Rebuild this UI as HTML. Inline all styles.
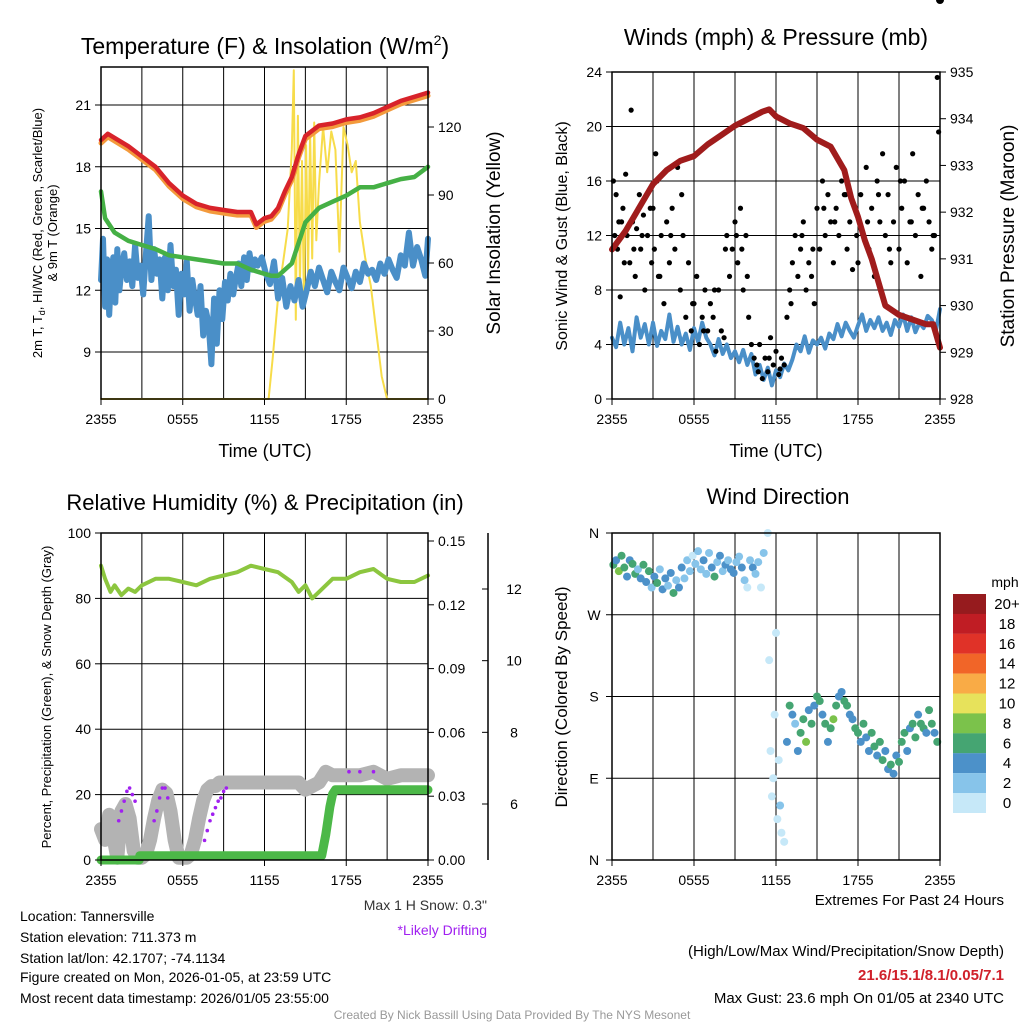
<!DOCTYPE html>
<html><head><meta charset="utf-8"><style>
body{margin:0;background:#fff;overflow:hidden;}
svg{display:block;font-family:"Liberation Sans",Arial,sans-serif;}
</style></head><body>
<svg id="chart" width="1024" height="1024" viewBox="0 0 1024 1024" xmlns="http://www.w3.org/2000/svg">
<defs><clipPath id="clip2"><rect x="606" y="66" width="340" height="339"/></clipPath></defs>
<rect width="1024" height="1024" fill="#fff"/>
<g id="g1"></g>
<g id="g2"></g>
<g id="g3"></g>
<g id="g4"></g>
<g id="txt">
<text x="20" y="921" font-size="14">Location: Tannersville</text>
<text x="20" y="942" font-size="14">Station elevation: 711.373 m</text>
<text x="20" y="963" font-size="14">Station lat/lon: 42.1707; -74.1134</text>
<text x="20" y="982" font-size="14">Figure created on Mon, 2026-01-05, at 23:59 UTC</text>
<text x="20" y="1003" font-size="14">Most recent data timestamp: 2026/01/05 23:55:00</text>
<text x="487" y="910" font-size="14" text-anchor="end" fill="#333">Max 1 H Snow: 0.3"</text>
<text x="487" y="935" font-size="14" text-anchor="end" fill="#a020f0">*Likely Drifting</text>
<text x="1004" y="905" font-size="15" text-anchor="end">Extremes For Past 24 Hours</text>
<text x="1004" y="956" font-size="15" text-anchor="end">(High/Low/Max Wind/Precipitation/Snow Depth)</text>
<text x="1004" y="980" font-size="15" font-weight="bold" text-anchor="end" fill="#d0202a">21.6/15.1/8.1/0.05/7.1</text>
<text x="1004" y="1003" font-size="15" text-anchor="end">Max Gust: 23.6 mph On 01/05 at 2340 UTC</text>
<text x="512" y="1019" font-size="12" text-anchor="middle" fill="#999">Created By Nick Bassill Using Data Provided By The NYS Mesonet</text>
</g>
</svg>
<script>
// ---------- data ----------
const timeLabels=["2355","0555","1155","1755","2355"];
const tempT=[0,0.5,1,2,3,4,5,6,7,8,9,10,11,11.4,12,12.5,13,13.5,14,14.5,15,16,17,18,19,20,21,22,23,24];
const temp2m=[19.3,19.6,19.4,19.0,18.5,18.0,17.2,16.6,16.2,16.0,15.9,15.8,15.8,15.2,15.5,15.6,16.0,16.8,17.5,18.6,19.5,20.0,20.1,20.3,20.4,20.6,20.9,21.2,21.4,21.6];
const dewT=[0,0.3,1,2,3,4,5,6,7,8,9,10,11,12,12.5,13,14,15,16,17,18,19,20,21,22,23,24];
const dewpoint=[16.8,15.5,14.8,14.4,14.2,14.0,13.7,13.6,13.5,13.4,13.3,13.3,13.0,12.8,12.7,12.7,13.3,15.3,16.0,16.3,16.6,17.0,17.0,17.2,17.4,17.5,18.0];
const wcT=[0,0.15,0.3,0.45,0.6,0.75,0.9,1.05,1.2,1.35,1.5,1.7,1.9,2.1,2.3,2.5,2.7,2.9,3.1,3.3,3.5,3.7,3.9,4.1,4.3,4.5,4.7,4.9,5.1,5.3,5.5,5.7,5.9,6.1,6.3,6.5,6.7,6.9,7.1,7.3,7.5,7.7,7.9,8.1,8.3,8.5,8.7,8.9,9.1,9.3,9.5,9.7,9.9,10.1,10.3,10.5,10.7,10.9,11.1,11.3,11.5,11.8,12.1,12.4,12.7,13.0,13.3,13.6,13.9,14.2,14.5,14.8,15.1,15.4,15.7,16.0,16.3,16.6,16.9,17.2,17.5,17.8,18.1,18.4,18.7,19.0,19.3,19.6,19.9,20.2,20.5,20.8,21.1,21.4,21.7,22.0,22.3,22.6,22.9,23.2,23.5,23.8,24];
const windChill=[12.5,14.5,11.2,13.5,10.8,12.8,13.6,11.4,14.0,12.0,13.0,13.8,12.5,13.4,12.2,14.2,12.6,13.2,11.8,13.8,15.6,12.5,14.0,12.8,13.5,11.6,13.6,12.0,14.2,12.2,13.0,10.8,12.8,11.8,13.4,11.0,12.5,11.6,10.8,12.2,9.8,11.0,10.4,8.4,11.6,9.4,12.0,10.6,12.4,11.5,12.8,11.8,12.6,13.3,12.2,13.6,12.5,13.8,13.0,13.5,13.2,13.6,12.8,12.3,13.4,11.6,12.6,11.2,12.2,11.5,12.5,11.2,12.0,12.9,12.2,13.1,12.5,11.9,12.9,12.4,12.0,13.1,12.6,12.1,12.9,12.4,13.3,12.8,13.0,12.5,13.3,12.8,13.5,13.0,12.6,13.7,13.2,14.8,13.2,14.1,13.5,12.7,14.5];
const solarT=[0,12.3,12.6,13.0,13.4,13.7,14.0,14.15,14.3,14.45,14.6,14.75,14.9,15.05,15.2,15.35,15.5,15.65,15.8,16.0,16.3,16.6,16.9,17.2,17.5,17.8,18.1,18.4,18.7,19.0,19.4,19.8,20.2,20.6,21.0,24];
const solar=[0,0,18,45,62,75,110,145,35,125,50,105,40,112,55,118,62,122,70,95,120,100,118,110,65,120,112,100,105,78,62,50,30,10,0,0];
const pressT=[0,0.5,1,2,3,4,5,6,7,8,9,10,11,11.5,12,13,14,15,16,17,17.5,18,18.5,19,19.5,20,21,22,23,23.5,24];
const pressure=[931.2,931.4,931.6,932.1,932.6,932.9,933.1,933.2,933.45,933.65,933.85,934.0,934.15,934.2,934.05,933.9,933.8,933.55,933.4,932.9,932.3,931.9,931.4,931.0,930.5,930.0,929.8,929.7,929.6,929.6,929.1];
const sonicT=[0,0.3,0.6,0.9,1.2,1.5,1.8,2.1,2.4,2.7,3.0,3.3,3.6,3.9,4.2,4.5,4.8,5.1,5.4,5.7,6.0,6.3,6.6,6.9,7.2,7.5,7.8,8.1,8.4,8.7,9.0,9.3,9.6,9.9,10.2,10.5,10.8,11.1,11.4,11.7,12.0,12.3,12.6,12.9,13.2,13.5,13.8,14.1,14.4,14.7,15.0,15.3,15.6,15.9,16.2,16.5,16.8,17.1,17.4,17.7,18.0,18.3,18.6,18.9,19.2,19.5,19.8,20.1,20.4,20.7,21.0,21.3,21.6,21.9,22.2,22.5,22.8,23.1,23.4,23.7,24];
const sonic=[4.5,3.8,5.6,4.0,5.2,3.5,6.0,4.5,5.5,4.0,5.6,3.9,5.0,4.4,6.2,4.2,5.3,4.0,4.8,3.6,5.2,4.2,5.6,4.5,4.0,3.2,4.4,3.3,4.0,3.0,3.5,2.7,3.6,2.5,3.3,1.8,2.5,1.4,2.3,1.0,2.1,1.6,2.6,2.1,2.9,4.0,3.5,4.6,3.4,4.3,4.0,4.5,3.7,4.8,4.4,5.5,4.6,5.6,5.0,4.5,5.4,6.2,5.0,5.8,5.2,6.0,5.0,5.6,4.7,5.8,5.3,6.2,5.0,6.0,4.9,5.6,5.2,6.1,5.8,5.0,6.6];
const gustT=[
0.1,0.2,0.3,0.4,0.5,0.6,0.8,0.9,1.0,1.1,
1.3,1.4,1.5,1.7,1.8,2.0,2.1,2.3,2.4,2.6,
2.8,2.9,3.1,3.2,3.4,3.6,3.8,4.0,4.2,4.4,
4.6,4.8,5.0,5.2,5.4,5.6,5.8,6.0,6.2,6.4,
6.6,6.8,7.0,7.2,7.4,7.6,7.8,8.0,8.2,8.4,
8.6,8.8,9.0,9.2,9.4,9.6,9.8,10.0,10.2,10.4,
10.6,10.8,11.0,11.2,11.4,11.6,11.8,12.0,12.2,12.4,
12.6,12.8,13.0,13.2,13.4,13.6,13.8,14.0,14.2,14.4,
14.6,14.8,15.0,15.2,15.4,15.6,15.8,16.0,16.2,16.4,
16.6,16.8,17.0,17.2,17.4,17.6,17.8,18.0,18.2,18.4,
18.6,18.8,19.0,19.2,19.4,19.6,19.8,20.0,20.2,20.4,
20.6,20.8,21.0,21.2,21.4,21.6,21.8,22.0,22.2,22.4,
22.6,22.8,23.0,23.2,23.4,23.6,23.8,23.9,0.7,1.6,
2.2,3.0,3.5,4.3,5.1,5.9,6.7,7.5,8.3,9.1,
9.9,10.7,11.5,12.3,13.1,13.9,14.7,15.5,16.3,17.1,
17.9,18.7,19.5,20.3,21.1,21.9,22.7,23.5,3.3,9.5];
const gust=[
16,12,15,11,13,7.5,14,10,16.5,12,
10,21.2,13,9,12.5,15,11,13.5,8,12,
14,10,11,18,9,12,7,13,10,14,
11,17,8,12,6,10,5,7,9,4,
6,8,5,7,6,3.5,8,5,4.5,12,
9,11,13,10,14,8,12,6,4,3,
2.5,4,1.5,3,2,4.5,2.5,3.5,1.8,3,
2.5,6,8,10,12,9,11,13,8,10,
9,7,14,11,16,12,15,13,10,14,
12,16,15,11,13,9.5,14,10,15,12,
17,11,14,9,16,13,18,12,15,10,
13,17,11,14,16,10,13,18,12,15,
9,14,16,13,11,12,23.6,19.6,13,11,
12,14,9,12,15,7,5,8,11,12,
9,2,3,2.2,7,12,11,14,13,15,
12,13,15,11,16,13,14,12,16,11];
const rhT=[0,0.3,0.7,1,1.5,2,2.5,3,4,5,6,7,8,9,10,11,12,13,14,14.5,15,15.5,16,17,18,19,20,21,22,23,24];
const rh=[90,86,82,84,81,83,82,84,86,86,85,84,86,87,88,90,89,88,85,82,84,80,82,86,86,88,89,86,85,85,87];
const snowT=[0,0.3,0.6,0.9,1.2,1.5,1.8,2.1,2.4,2.7,3.0,3.3,3.6,3.9,4.2,4.5,4.8,5.1,5.4,5.7,6.0,6.3,6.6,6.9,7.2,7.5,7.8,8.1,8.4,8.7,9.0,9.5,10,11,12,13,14,14.5,15,15.5,16,16.5,17,18,19,20,21,22,23,24];
const snowDepth=[5.3,5.0,5.7,5.1,4.5,5.8,6.0,5.6,4.7,4.5,4.5,4.6,5.0,5.6,6.1,6.4,6.3,5.8,5.0,4.5,4.5,4.5,4.6,5.0,5.6,6.1,6.4,6.5,6.5,6.6,6.6,6.6,6.6,6.6,6.6,6.6,6.6,6.6,6.4,6.5,6.6,6.9,6.8,6.8,6.8,6.9,6.7,6.8,6.8,6.8];
const precipT=[0,2.8,2.85,16.2,16.5,16.8,17.0,17.2,24];
const precip=[0,0,0.002,0.002,0.012,0.025,0.031,0.033,0.033];
const driftT=[1.3,1.5,1.7,1.9,2.1,2.3,2.5,3.9,4.1,4.3,4.5,4.7,4.9,7.6,7.8,8.0,8.2,8.4,8.6,8.8,9.0,9.2,18.2,19.0,20.0];
const driftPct=[12,15,18,21,22,20,18,12,15,19,22,22,19,6,9,12,14,16,18,19,21,22,27,27,27];
const dirT=[0.1,0.3,0.5,0.7,0.9,1.1,1.3,1.5,1.7,1.9,2.1,2.3,2.5,2.7,2.9,3.1,3.3,3.5,3.7,3.9,4.1,4.3,4.5,4.7,4.9,5.1,5.3,5.5,5.7,5.9,6.1,6.3,6.5,6.7,6.9,7.1,7.3,7.5,7.7,7.9,8.1,8.3,8.5,8.7,8.9,9.1,9.3,9.5,9.7,9.9,10.1,10.3,10.5,10.7,10.9,11.1,11.4,11.5,11.6,11.7,11.8,11.9,12.0,12.1,12.2,12.3,12.4,12.6,12.8,13.0,13.2,13.4,13.6,13.8,14.0,14.2,14.4,14.6,14.8,15.0,15.2,15.4,15.6,15.8,16.0,16.2,16.4,16.6,16.8,17.0,17.2,17.4,17.6,17.8,18.0,18.2,18.4,18.6,18.8,19.0,19.2,19.4,19.6,19.8,20.0,20.2,20.4,20.6,20.8,21.0,21.2,21.4,21.6,21.8,22.0,22.2,22.4,22.6,22.8,23.0,23.2,23.4,23.6,23.8,24.0];
const dirDeg=[325,330,318,335,322,312,330,326,315,320,310,325,306,318,300,312,305,320,298,310,302,316,294,308,300,322,310,330,318,335,326,340,320,330,315,338,322,312,328,335,318,325,330,320,316,328,334,322,308,300,330,322,315,328,300,338,360,220,120,70,90,160,250,45,110,60,30,20,130,170,160,150,120,140,155,130,165,150,170,180,175,160,150,130,145,155,170,180,185,175,170,160,155,145,140,130,150,135,120,140,125,115,130,110,120,100,105,95,115,108,130,140,120,145,150,135,160,150,145,140,165,150,140,130];
const dirSpd=[6,4,8,6,7,4,5,7,6,3,4,6,5,6,2,4,6,3,4,5,2,4,6,3,5,4,2,3,2,1,2,3,2,4,3,2,4,6,3,4,2,4,3,5,4,2,3,4,2,1,3,4,2,3,1,2,1,1,1,1,1,0,1,1,1,2,1,1,4,6,5,3,4,7,6,8,4,6,5,6,7,5,6,4,7,8,6,5,4,6,7,5,4,6,7,5,6,4,5,7,6,5,7,6,4,5,6,4,5,6,7,6,5,4,6,7,5,6,7,4,6,7,5,6];
const cbLabels=["20+","18","16","14","12","10","8","6","4","2","0"];
const cbColors=["#961b1e","#c01d24","#e03228","#f16528","#f9ab46","#e7e25b","#7bc24b","#45a572","#4c91c9","#87c4ea","#c6e8f8"];

// ---------- helpers ----------
const NS="http://www.w3.org/2000/svg";
function mk(p,tag,a){const e=document.createElementNS(NS,tag);for(const k in a)e.setAttribute(k,a[k]);p.appendChild(e);return e;}
function txt(p,x,y,s,a){const e=mk(p,"text",Object.assign({x:x,y:y,"font-size":14},a));e.textContent=s;return e;}
function linear(d0,d1,r0,r1){return v=>r0+(v-d0)/(d1-d0)*(r1-r0);}
function pathD(xs,ys,fx,fy){return xs.map((t,i)=>(i?"L":"M")+fx(t).toFixed(1)+","+fy(ys[i]).toFixed(1)).join("");}
function frame(g,L,T,R,B,xf,gridY){
  for(let h=0;h<=24;h+=3){const x=xf(h);const l=mk(g,"line",{x1:x,x2:x,y1:T,y2:B,stroke:"#000","stroke-width":1});}
  gridY.forEach(y=>{const l=mk(g,"line",{x1:L,x2:R,y1:y,y2:y,stroke:"#000","stroke-width":1});});
}
function border(g,L,T,R,B,xf){
  const r=mk(g,"rect",{x:L,y:T,width:R-L,height:B-T,fill:"none",stroke:"#000","stroke-width":1.5});
  
  timeLabels.forEach((s,i)=>{const x=xf(i*6);mk(g,"line",{x1:x,x2:x,y1:B,y2:B+6,stroke:"#000"});
    const t=txt(g,x,B+25,s,{"text-anchor":"middle"});});
}
function leftTicks(g,L,vals,yf,fmt){vals.forEach(v=>{const y=yf(v);mk(g,"line",{x1:L-6,x2:L,y1:y,y2:y,stroke:"#000"});const t=txt(g,L-10,y+5,fmt(v),{"text-anchor":"end"});});}
function rightTicks(g,R,vals,yf,fmt){vals.forEach(v=>{const y=yf(v);mk(g,"line",{x1:R,x2:R+6,y1:y,y2:y,stroke:"#000"});const t=txt(g,R+10,y+5,fmt(v),{"text-anchor":"start"});});}
function line(g,xs,ys,fx,fy,col,w,name){const p=mk(g,"path",{d:pathD(xs,ys,fx,fy),fill:"none",stroke:col,"stroke-width":w,"stroke-linejoin":"round","stroke-linecap":"round"});return p;}

// ---------- panel 1 ----------
(function(){
  const g=document.getElementById("g1");const L=101,T=67,R=428,B=399;
  const x=linear(0,24,L,R), y=linear(9,21,352,105), y2=linear(0,120,399,127);
  frame(g,L,T,R,B,x,[9,12,15,18,21].map(y));
  line(g,solarT,solar,x,y2,"#f7dc4a",2,"solar-insolation-line");
  line(g,wcT,windChill,x,y,"#4a8fc8",6,"wind-chill-line");
  line(g,dewT,dewpoint,x,y,"#45b045",4.5,"dewpoint-line");
  line(g,tempT,temp2m.map(v=>v-0.15),x,y,"#f39a3c",5,"temp-9m-line");
  line(g,tempT,temp2m,x,y,"#d8232a",4.5,"temp-2m-line");
  border(g,L,T,R,B,x);
  leftTicks(g,L,[9,12,15,18,21],y,v=>String(v));
  rightTicks(g,R,[0,30,60,90,120],y2,v=>String(v));
  let t=txt(g,265,54,"",{"text-anchor":"middle","font-size":23});t.innerHTML='Temperature (F) &amp; Insolation (W/m<tspan dy="-9" font-size="14">2</tspan><tspan dy="9">)</tspan>';
  t=txt(g,265,457,"Time (UTC)",{"text-anchor":"middle","font-size":18});
  t=txt(g,0,0,"",{"font-size":13,"text-anchor":"middle",transform:"translate(42,233) rotate(-90)"});t.innerHTML='2m T, T<tspan font-size="9" dy="3">d</tspan><tspan dy="-3">, HI/WC (Red, Green, Scarlet/Blue)</tspan>';
  t=txt(g,0,0,"& 9m T (Orange)",{"font-size":13,"text-anchor":"middle",transform:"translate(57,233) rotate(-90)"});
  t=txt(g,0,0,"Solar Insolation (Yellow)",{"font-size":19,"text-anchor":"middle",transform:"translate(500,233) rotate(-90)"});
})();

// ---------- panel 2 ----------
(function(){
  const g=document.getElementById("g2");const L=612,T=72,R=940,B=399;
  const x=linear(0,24,L,R), y=linear(0,24,B,T), y2=linear(928,935,B,T);
  frame(g,L,T,R,B,x,[4,8,12,16,20].map(y));
  line(g,sonicT,sonic,x,y,"#4a8fc8",4,"sonic-wind-line");
  const dots=mk(g,"g",{"clip-path":"url(#clip2)"});
  
  
  const n=Math.min(gustT.length,gust.length);
  for(let i=0;i<n;i++){const c=mk(dots,"circle",{cx:x(gustT[i]),cy:y(gust[i]),r:2.6,fill:"#000"});}
  line(g,pressT,pressure,x,y2,"#a01c1c",6,"pressure-line");
  border(g,L,T,R,B,x);
  leftTicks(g,L,[0,4,8,12,16,20,24],y,v=>String(v));
  rightTicks(g,R,[928,929,930,931,932,933,934,935],y2,v=>String(v));
  let t=txt(g,776,45,"Winds (mph) & Pressure (mb)",{"text-anchor":"middle","font-size":23});
  t=txt(g,776,457,"Time (UTC)",{"text-anchor":"middle","font-size":18});
  t=txt(g,0,0,"Sonic Wind & Gust (Blue, Black)",{"font-size":16,"text-anchor":"middle",transform:"translate(567,236) rotate(-90)"});
  t=txt(g,0,0,"Station Pressure (Maroon)",{"font-size":19,"text-anchor":"middle",transform:"translate(1014,236) rotate(-90)"});
})();

// ---------- panel 3 ----------
(function(){
  const g=document.getElementById("g3");const L=101,T=533,R=428,B=860;
  const x=linear(0,24,L,R), y=linear(0,100,B,T), yp=linear(0,0.15,B,541), ys=linear(6,12,804,589);
  frame(g,L,T,R,B,x,[20,40,60,80].map(y));
  line(g,snowT,snowDepth,x,ys,"#b3b3b3",14,"snow-depth-line");
  driftT.forEach((t,i)=>{const c=mk(g,"circle",{cx:x(t),cy:y(driftPct[i]),r:1.8,fill:"#a020f0"});});
  line(g,precipT,precip,x,yp,"#4cb848",9,"precipitation-line");
  line(g,rhT,rh,x,y,"#8cc63f",4,"relative-humidity-line");
  border(g,L,T,R,B,x);
  leftTicks(g,L,[0,20,40,60,80,100],y,v=>String(v));
  rightTicks(g,R,[0,0.03,0.06,0.09,0.12,0.15],yp,v=>v.toFixed(2));
  mk(g,"line",{x1:488,x2:488,y1:T,y2:B,stroke:"#000","stroke-width":1.5});
  [6,8,10,12].forEach(v=>{const yy=ys(v);mk(g,"line",{x1:482,x2:488,y1:yy,y2:yy,stroke:"#000"});const t=txt(g,514,yy+5,String(v),{"text-anchor":"middle"});});
  let t=txt(g,265,510,"Relative Humidity (%) & Precipitation (in)",{"text-anchor":"middle","font-size":22});
  t=txt(g,0,0,"Percent, Precipitation (Green), & Snow Depth (Gray)",{"font-size":13,"text-anchor":"middle",transform:"translate(51,697) rotate(-90)"});
})();

// ---------- panel 4 ----------
(function(){
  const g=document.getElementById("g4");const L=612,T=533,R=940,B=860;
  const x=linear(0,24,L,R), y=linear(0,360,B,T);
  frame(g,L,T,R,B,x,[90,180,270].map(y));
  const col=s=>cbColors[10-Math.min(10,Math.floor(s/2))];
  dirT.forEach((t,i)=>{const c=mk(g,"circle",{cx:x(t),cy:y(dirDeg[i]),r:4,fill:col(dirSpd[i])});});
  border(g,L,T,R,B,x);
  ["N","E","S","W","N"].forEach((s,i)=>{const yy=y(i*90);mk(g,"line",{x1:L-6,x2:L,y1:yy,y2:yy,stroke:"#000"});const t=txt(g,L-18,yy+5,s,{"text-anchor":"middle"});});
  let t=txt(g,778,504,"Wind Direction",{"text-anchor":"middle","font-size":22});
  t=txt(g,0,0,"Direction (Colored By Speed)",{"font-size":17,"text-anchor":"middle",transform:"translate(567,697) rotate(-90)"});
  const cb=mk(g,"g",{});
  t=txt(cb,1005,587,"mph",{"text-anchor":"middle"});
  cbColors.forEach((c,i)=>{const yy=594+i*19.9;const r=mk(cb,"rect",{x:953,y:yy,width:33,height:20,fill:c});
    const l=txt(cb,1007,yy+15,cbLabels[i],{"text-anchor":"middle","font-size":15});});
})();
</script>
</body></html>
